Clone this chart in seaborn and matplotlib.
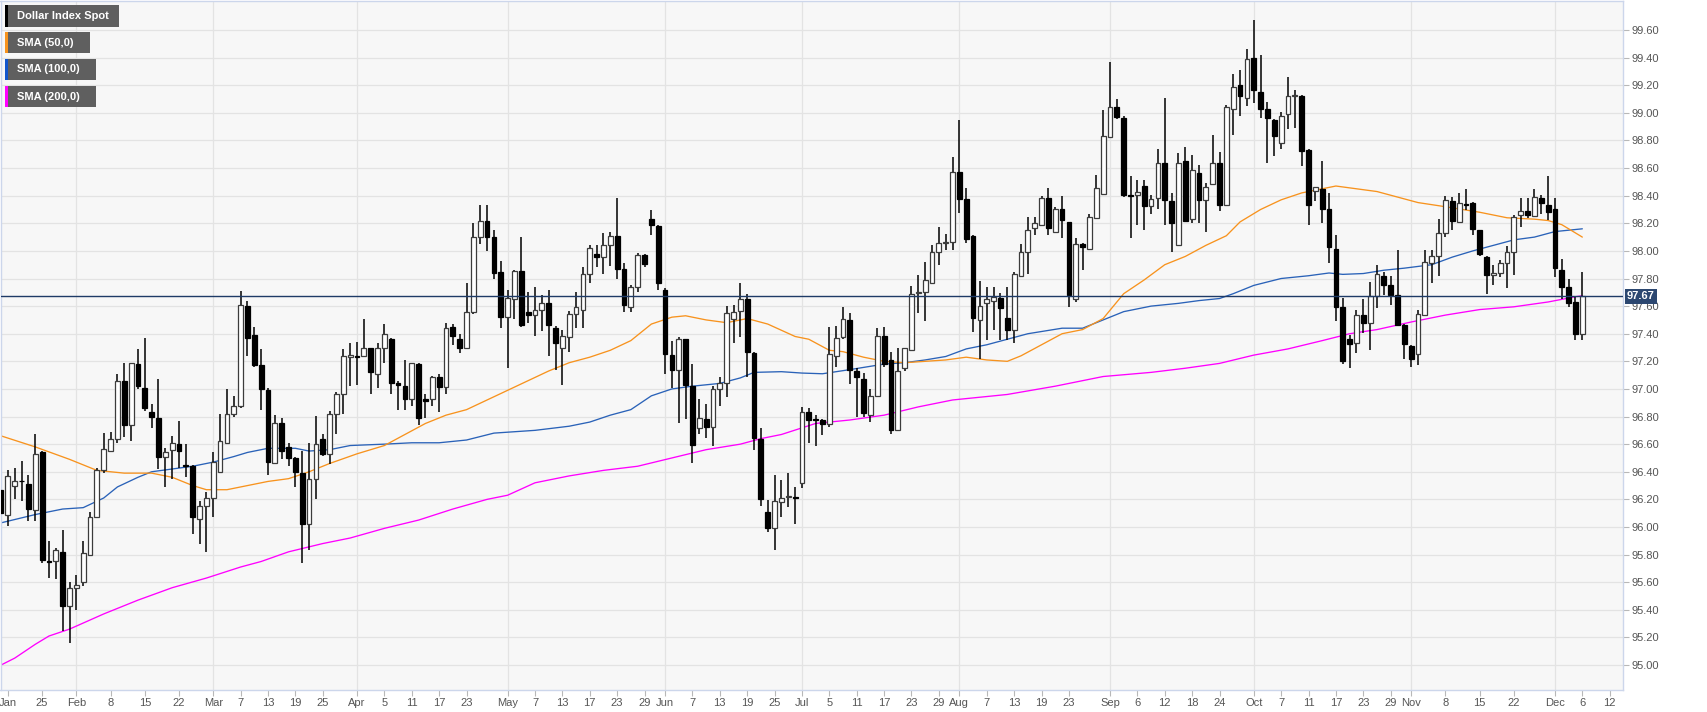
import numpy as np
import pandas as pd
import matplotlib
matplotlib.use('Agg')
import matplotlib.pyplot as plt
import seaborn as sns
from matplotlib.patches import Rectangle
from matplotlib.transforms import blended_transform_factory

# ---------------- data ----------------
start_date = '2019-01-17'
last_price = 97.67

opens = [96.27, 96.09, 96.30, 96.335, 96.31, 96.12, 96.54, 95.755, 95.75, 95.82,
         95.43, 95.56, 95.60, 95.80, 96.07, 96.41, 96.55, 96.64, 97.055, 96.74,
         97.18, 97.01, 96.83, 96.79, 96.51, 96.56, 96.60, 96.445, 96.44, 96.06,
         96.155, 96.21, 96.40, 96.61, 96.82, 96.88, 97.60, 97.39, 97.17, 96.99,
         96.46, 96.75, 96.58, 96.50, 96.39, 96.02, 96.345, 96.64, 96.53, 96.82,
         96.96, 97.235, 97.235, 97.24, 97.295, 97.11, 97.30, 97.365, 97.04, 97.02,
         96.925, 97.18, 96.925, 96.925, 97.085, 97.015, 97.45, 97.36, 97.295, 97.555,
         98.10, 98.22, 98.10, 97.85, 97.52, 97.65, 97.855, 97.56, 97.535, 97.57,
         97.62, 97.44, 97.30, 97.375, 97.54, 97.575, 97.83, 97.98, 97.955, 98.04,
         98.11, 97.87, 97.59, 97.74, 97.97, 98.23, 98.18, 97.72, 97.245, 97.14,
         97.36, 97.02, 96.715, 96.78, 96.725, 97.00, 97.04, 97.51, 97.565, 97.65,
         97.26, 96.64, 96.105, 95.99, 96.18, 96.215, 96.215, 96.32, 96.83, 96.78,
         96.775, 96.745, 97.24, 97.375, 97.50, 97.13, 97.075, 96.81, 96.95, 97.38,
         97.21, 96.705, 97.15, 97.285, 97.695, 97.70, 97.77, 97.99, 98.06, 98.065,
         98.57, 98.375, 98.11, 97.50, 97.62, 97.64, 97.66, 97.515, 97.425, 97.82,
         97.99, 98.165, 98.19, 98.38, 98.14, 98.30, 98.21, 97.65, 98.05, 98.015,
         98.24, 98.415, 98.825, 99.045, 98.96, 98.405, 98.405, 98.47, 98.325, 98.38,
         98.635, 98.36, 98.045, 98.65, 98.23, 98.565, 98.37, 98.485, 98.64, 98.33,
         99.03, 99.20, 99.11, 99.40, 99.15, 99.03, 98.95, 98.78, 98.99, 99.12,
         99.125, 98.73, 98.435, 98.445, 98.30, 98.015, 97.59, 97.36, 97.33, 97.535,
         97.475, 97.67, 97.82, 97.75, 97.68, 97.465, 97.31, 97.25, 97.535, 97.91,
         97.96, 98.13, 98.365, 98.21, 98.34, 98.35, 98.15, 97.955, 97.825, 97.84,
         97.91, 97.99, 98.26, 98.29, 98.255, 98.385, 98.33, 98.305, 97.86, 97.735,
         97.63, 97.40]

highs = [96.30, 96.41, 96.43, 96.48, 96.38, 96.67, 96.55, 95.90, 95.85, 95.98,
         95.60, 95.65, 95.90, 96.11, 96.43, 96.68, 96.69, 97.11, 97.19, 97.19,
         97.29, 97.37, 96.89, 97.07, 96.575, 96.66, 96.77, 96.60, 96.45, 96.19,
         96.25, 96.54, 96.82, 97.00, 96.95, 97.71, 97.64, 97.45, 97.29, 97.01,
         96.81, 96.79, 96.61, 96.51, 96.55, 96.61, 96.805, 96.67, 96.84, 96.975,
         97.29, 97.335, 97.34, 97.51, 97.30, 97.335, 97.47, 97.37, 97.06, 97.21,
         97.19, 97.185, 96.96, 97.095, 97.11, 97.48, 97.47, 97.395, 97.77, 98.20,
         98.33, 98.33, 98.15, 97.93, 97.72, 97.86, 98.10, 97.70, 97.74, 97.68,
         97.72, 97.455, 97.43, 97.565, 97.70, 97.88, 98.04, 98.045, 98.13, 98.14,
         98.38, 97.91, 97.75, 97.985, 97.975, 98.295, 98.185, 97.73, 97.345, 97.375,
         97.365, 97.18, 96.93, 96.89, 97.02, 97.085, 97.60, 97.61, 97.77, 97.69,
         97.265, 96.715, 96.195, 96.38, 96.34, 96.39, 96.29, 96.87, 96.86, 96.81,
         96.785, 97.45, 97.455, 97.59, 97.55, 97.15, 97.115, 97.00, 97.44, 97.45,
         97.27, 97.295, 97.30, 97.745, 97.825, 97.92, 98.04, 98.175, 98.125, 98.68,
         98.95, 98.455, 98.115, 97.78, 97.74, 97.74, 97.695, 97.74, 97.845, 98.05,
         98.245, 98.245, 98.395, 98.455, 98.32, 98.40, 98.21, 98.09, 98.055, 98.27,
         98.55, 99.02, 99.37, 99.10, 98.975, 98.54, 98.515, 98.515, 98.405, 98.74,
         99.11, 98.42, 98.71, 98.755, 98.695, 98.62, 98.49, 98.84, 98.715, 99.06,
         99.285, 99.31, 99.46, 99.67, 99.42, 99.08, 98.955, 99.005, 99.26, 99.165,
         99.13, 98.74, 98.465, 98.65, 98.42, 98.115, 97.66, 97.39, 97.575, 97.65,
         97.775, 97.90, 97.85, 97.82, 98.005, 97.47, 97.32, 97.57, 98.005, 98.01,
         98.23, 98.395, 98.39, 98.42, 98.45, 98.355, 98.155, 97.96, 97.895, 97.935,
         98.035, 98.26, 98.38, 98.38, 98.445, 98.405, 98.54, 98.38, 97.94, 97.80,
         97.67, 97.85]

lows = [96.00, 96.01, 96.20, 96.19, 96.04, 96.04, 95.74, 95.63, 95.62, 95.25,
        95.16, 95.40, 95.57, 95.79, 96.07, 96.39, 96.54, 96.61, 96.65, 96.62,
        97.00, 96.84, 96.72, 96.42, 96.29, 96.345, 96.43, 96.36, 95.95, 95.875,
        95.82, 96.07, 96.39, 96.61, 96.80, 96.86, 97.24, 97.16, 96.85, 96.38,
        96.46, 96.49, 96.44, 96.29, 95.74, 95.83, 96.20, 96.515, 96.455, 96.67,
        96.82, 97.02, 97.03, 97.24, 96.96, 97.01, 97.19, 96.96, 96.85, 96.85,
        96.88, 96.74, 96.79, 96.88, 96.83, 96.96, 97.32, 97.26, 97.29, 97.54,
        98.05, 98.00, 97.80, 97.44, 97.15, 97.51, 97.45, 97.475, 97.385, 97.42,
        97.24, 97.14, 97.03, 97.27, 97.44, 97.44, 97.77, 97.88, 97.83, 97.89,
        97.80, 97.555, 97.555, 97.705, 97.88, 98.115, 97.72, 97.11, 97.005, 96.75,
        96.78, 96.46, 96.67, 96.645, 96.585, 96.875, 96.94, 97.33, 97.375, 97.09,
        96.56, 96.15, 95.965, 95.835, 96.07, 96.145, 96.02, 96.28, 96.61, 96.585,
        96.665, 96.725, 97.16, 97.36, 97.035, 96.795, 96.80, 96.76, 96.945, 97.16,
        96.67, 96.70, 97.13, 97.28, 97.55, 97.49, 97.765, 97.90, 98.01, 98.01,
        98.275, 98.055, 97.41, 97.215, 97.355, 97.43, 97.355, 97.355, 97.33, 97.815,
        97.83, 98.115, 98.185, 98.115, 98.14, 98.09, 97.59, 97.63, 97.86, 98.01,
        98.235, 98.41, 98.82, 98.955, 98.39, 98.09, 98.19, 98.15, 98.27, 98.305,
        98.19, 97.99, 98.035, 98.215, 98.20, 98.20, 98.14, 98.48, 98.29, 98.33,
        98.84, 98.98, 99.05, 99.07, 98.96, 98.635, 98.69, 98.74, 98.885, 98.89,
        98.615, 98.19, 98.36, 98.20, 97.91, 97.49, 97.18, 97.15, 97.26, 97.405,
        97.28, 97.585, 97.68, 97.61, 97.455, 97.215, 97.16, 97.17, 97.53, 97.765,
        97.815, 98.10, 98.15, 98.205, 98.295, 98.115, 97.96, 97.685, 97.75, 97.81,
        97.73, 97.825, 98.175, 98.235, 98.25, 98.265, 98.225, 97.81, 97.655, 97.595,
        97.355, 97.355]

closes = [96.10, 96.37, 96.33, 96.33, 96.13, 96.53, 95.76, 95.745, 95.83, 95.43,
          95.56, 95.58, 95.815, 96.075, 96.41, 96.565, 96.635, 97.06, 96.74, 97.185,
          97.02, 96.86, 96.80, 96.51, 96.54, 96.61, 96.55, 96.44, 96.07, 96.155,
          96.21, 96.47, 96.62, 96.82, 96.88, 97.61, 97.37, 97.17, 97.00, 96.47,
          96.75, 96.55, 96.50, 96.40, 96.02, 96.345, 96.60, 96.53, 96.82, 96.965,
          97.24, 97.245, 97.23, 97.295, 97.125, 97.30, 97.395, 97.045, 97.03, 96.925,
          97.185, 96.79, 96.91, 97.085, 97.015, 97.44, 97.38, 97.295, 97.555, 98.10,
          98.22, 98.10, 97.84, 97.52, 97.66, 97.855, 97.465, 97.535, 97.57, 97.62,
          97.465, 97.335, 97.38, 97.54, 97.59, 97.83, 98.02, 97.955, 98.04, 98.11,
          97.87, 97.605, 97.74, 97.97, 97.905, 98.185, 97.765, 97.25, 97.135, 97.36,
          97.025, 96.595, 96.79, 96.725, 97.00, 97.04, 97.55, 97.555, 97.655, 97.265,
          96.645, 96.20, 95.99, 96.185, 96.21, 96.22, 96.21, 96.83, 96.775, 96.775,
          96.745, 97.25, 97.37, 97.505, 97.135, 97.085, 96.825, 96.95, 97.38, 97.18,
          96.70, 97.13, 97.295, 97.69, 97.70, 97.79, 97.99, 98.06, 98.065, 98.575,
          98.375, 98.085, 97.515, 97.60, 97.655, 97.665, 97.585, 97.425, 97.835, 97.99,
          98.15, 98.20, 98.385, 98.165, 98.30, 98.225, 97.68, 98.05, 98.025, 98.245,
          98.455, 98.835, 99.045, 98.97, 98.405, 98.40, 98.425, 98.325, 98.375, 98.635,
          98.37, 98.205, 98.64, 98.22, 98.585, 98.37, 98.46, 98.635, 98.335, 99.045,
          99.19, 99.125, 99.39, 99.165, 99.03, 98.96, 98.83, 98.98, 99.12, 99.125,
          98.725, 98.33, 98.46, 98.30, 98.025, 97.595, 97.205, 97.325, 97.535, 97.475,
          97.67, 97.83, 97.75, 97.68, 97.465, 97.325, 97.215, 97.54, 97.92, 97.96,
          98.13, 98.37, 98.215, 98.35, 98.335, 98.16, 97.98, 97.825, 97.84, 97.91,
          97.99, 98.245, 98.29, 98.26, 98.39, 98.35, 98.285, 97.875, 97.735, 97.625,
          97.395, 97.67]

# moving averages (trading-day index, value)
sma50_idx = [0, 5, 10, 14, 18, 22, 25, 28, 30, 33, 36, 39, 42, 45, 48, 52, 56, 59, 62, 65,
             68, 71, 74, 77, 80, 83, 86, 89, 92, 95, 98, 100, 103, 106, 109, 112, 116, 118, 121, 123,
             126, 129, 132, 135, 138, 141, 144, 147, 149, 152, 155, 158, 161, 164, 167, 170, 173, 176, 179, 181,
             184, 187, 190, 192, 195, 198, 201, 204, 207, 211, 216, 220, 224, 226, 228, 230, 231]
sma50_val = [96.66, 96.58, 96.49, 96.41, 96.39, 96.39, 96.36, 96.30, 96.27, 96.27, 96.30, 96.33, 96.35, 96.40, 96.46, 96.53, 96.59, 96.67, 96.75, 96.81,
             96.85, 96.92, 96.99, 97.06, 97.13, 97.19, 97.23, 97.28, 97.35, 97.47, 97.52, 97.53, 97.50, 97.48, 97.51, 97.47, 97.38, 97.36, 97.28, 97.27,
             97.23, 97.20, 97.19, 97.20, 97.21, 97.23, 97.21, 97.20, 97.24, 97.32, 97.40, 97.43, 97.51, 97.69, 97.79, 97.90, 97.96, 98.04, 98.11, 98.21,
             98.30, 98.37, 98.42, 98.44, 98.47, 98.45, 98.43, 98.39, 98.35, 98.32, 98.28, 98.24, 98.23, 98.22, 98.19, 98.13, 98.10]

sma100_idx = [0, 5, 9, 12, 15, 17, 20, 22, 25, 28, 31, 34, 36, 39, 43, 45, 48, 51, 56, 60,
              64, 68, 72, 75, 78, 83, 86, 89, 92, 95, 98, 101, 105, 108, 110, 114, 117, 120, 124, 129,
              132, 135, 138, 141, 144, 147, 150, 155, 158, 161, 164, 168, 172, 175, 178, 180, 183, 187, 191, 194,
              196, 199, 202, 205, 209, 212, 215, 218, 221, 224, 227, 229, 231]
sma100_val = [96.03, 96.09, 96.13, 96.14, 96.21, 96.29, 96.36, 96.40, 96.42, 96.44, 96.47, 96.51, 96.54, 96.57, 96.57, 96.55, 96.56, 96.59, 96.60, 96.61,
              96.61, 96.63, 96.68, 96.69, 96.70, 96.73, 96.76, 96.81, 96.85, 96.95, 97.00, 97.02, 97.04, 97.08, 97.12, 97.125, 97.115, 97.11, 97.14, 97.18,
              97.19, 97.21, 97.235, 97.29, 97.32, 97.36, 97.40, 97.44, 97.44, 97.50, 97.56, 97.60, 97.62, 97.64, 97.655, 97.69, 97.75, 97.80, 97.82, 97.84,
              97.83, 97.836, 97.86, 97.875, 97.90, 97.955, 98.00, 98.04, 98.08, 98.10, 98.14, 98.15, 98.16]

sma200_idx = [0, 2, 5, 7, 10, 15, 20, 25, 30, 35, 38, 42, 47, 51, 56, 61, 66, 71, 74, 78,
              83, 88, 93, 98, 103, 108, 111, 114, 119, 124, 129, 134, 139, 144, 147, 154, 161, 168, 173, 178,
              183, 188, 193, 197, 201, 206, 211, 216, 221, 226, 230, 231]
sma200_val = [95.00, 95.05, 95.15, 95.21, 95.26, 95.37, 95.47, 95.56, 95.63, 95.71, 95.75, 95.82, 95.88, 95.92, 95.99, 96.05, 96.13, 96.20, 96.23, 96.32,
              96.37, 96.41, 96.44, 96.50, 96.56, 96.60, 96.64, 96.67, 96.75, 96.775, 96.81, 96.87, 96.92, 96.945, 96.96, 97.02, 97.09, 97.12, 97.15, 97.185,
              97.245, 97.29, 97.35, 97.40, 97.43, 97.485, 97.535, 97.575, 97.595, 97.63, 97.668, 97.675]

tick_dates = ['2019-01-18', '2019-01-25', '2019-02-01', '2019-02-08', '2019-02-15', '2019-02-22',
              '2019-03-01', '2019-03-07', '2019-03-13', '2019-03-19', '2019-03-25', '2019-04-01',
              '2019-04-05', '2019-04-11', '2019-04-17', '2019-04-23', '2019-05-01', '2019-05-07',
              '2019-05-13', '2019-05-17', '2019-05-23', '2019-05-29', '2019-06-03', '2019-06-07',
              '2019-06-13', '2019-06-19', '2019-06-25', '2019-07-01', '2019-07-05', '2019-07-11',
              '2019-07-17', '2019-07-23', '2019-07-29', '2019-08-01', '2019-08-07', '2019-08-13',
              '2019-08-19', '2019-08-23', '2019-09-02', '2019-09-06', '2019-09-12', '2019-09-18',
              '2019-09-24', '2019-10-01', '2019-10-07', '2019-10-11', '2019-10-17', '2019-10-23',
              '2019-10-29', '2019-11-01', '2019-11-08', '2019-11-15', '2019-11-22', '2019-12-02',
              '2019-12-06', '2019-12-12']
tick_labels = ['Jan', '25', 'Feb', '8', '15', '22', 'Mar', '7', '13', '19', '25', 'Apr', '5', '11', '17', '23',
               'May', '7', '13', '17', '23', '29', 'Jun', '7', '13', '19', '25', 'Jul', '5', '11', '17', '23',
               '29', 'Aug', '7', '13', '19', '23', 'Sep', '6', '12', '18', '24', 'Oct', '7', '11', '17', '23',
               '29', 'Nov', '8', '15', '22', 'Dec', '6', '12']
month_starts = ['2019-02-01', '2019-03-01', '2019-04-01', '2019-05-01', '2019-06-03', '2019-07-01',
                '2019-08-01', '2019-09-02', '2019-10-01', '2019-11-01', '2019-12-02']
y_ticks = [95.00, 95.20, 95.40, 95.60, 95.80, 96.00, 96.20, 96.40, 96.60, 96.80, 97.00, 97.20,
           97.40, 97.60, 97.80, 98.00, 98.20, 98.40, 98.60, 98.80, 99.00, 99.20, 99.40, 99.60]

legend_names = ['Dollar Index Spot', 'SMA (50,0)', 'SMA (100,0)', 'SMA (200,0)']

# ---------------- styling ----------------
sns.set_style('white')
plt.rcParams['font.family'] = ['Liberation Sans', 'DejaVu Sans']

W, H = 1707, 712
fig = plt.figure(figsize=(W / 100, H / 100), dpi=100, facecolor='white')
ax = fig.add_axes([0.5 / W, 1 - 690 / H, (1623 - 0.5) / W, (690 - 0.5) / H])
ax.set_facecolor('#f7f7f7')

n = len(opens)
all_days = pd.bdate_range(start_date, '2019-12-31')
idx = np.arange(n)
o = np.array(opens); h = np.array(highs); l = np.array(lows); c = np.array(closes)

# grid
for yv in y_ticks:
    ax.axhline(yv, color='#e3e3e3', lw=0.9, zorder=0)
for d in month_starts:
    ax.axvline(all_days.get_loc(pd.Timestamp(d)), color='#e3e3e3', lw=0.9, zorder=0)

# SMAs (seaborn)
sns.lineplot(x=sma200_idx, y=sma200_val, ax=ax, color='#ff00ff', lw=0.95, zorder=1.5)
sns.lineplot(x=sma100_idx, y=sma100_val, ax=ax, color='#2a62b8', lw=0.95, zorder=1.6)
sns.lineplot(x=sma50_idx, y=sma50_val, ax=ax, color='#f7931e', lw=0.95, zorder=1.7)

# candles
ax.vlines(idx, l, h, color='black', lw=1.1, zorder=2)
up = c >= o
body_bot = np.minimum(o, c)
body_h = np.maximum(np.abs(c - o), 0.006)
ax.bar(idx[up], body_h[up], bottom=body_bot[up], width=0.7, color='white',
       edgecolor='#3c3c3c', linewidth=0.9, zorder=3)
ax.bar(idx[~up], body_h[~up], bottom=body_bot[~up], width=0.7, color='black',
       edgecolor='black', linewidth=0.9, zorder=3)

# last price line
ax.axhline(last_price, color='#1e3a66', lw=1.0, zorder=4)
tr = blended_transform_factory(ax.transAxes, ax.transData)
ax.text(1.0025, last_price, f'{last_price:.2f}', transform=tr, ha='left', va='center',
        color='white', fontsize=8, fontweight='bold', zorder=10, clip_on=False,
        bbox=dict(boxstyle='square,pad=0.22', fc='#2c4770', ec='none'))

# axes
ax.set_xlim(-0.08, n - 1 + 5.94)
ax.set_ylim(94.819, 99.814)
ax.yaxis.tick_right()
ax.set_yticks(y_ticks)
ax.set_yticklabels([f'{v:.2f}' for v in y_ticks])
tick_pos = [all_days.get_loc(pd.Timestamp(d)) for d in tick_dates]
ax.set_xticks(tick_pos)
ax.set_xticklabels(tick_labels)
ax.tick_params(axis='y', right=True, left=False, length=4, width=0.8, color='#b8b8b8',
               labelsize=8, labelcolor='#555555', pad=2)
ax.tick_params(axis='x', bottom=True, length=4, width=0.8, color='#b8b8b8',
               labelsize=8, labelcolor='#555555', pad=2)
ax.set_xlabel('')
ax.set_ylabel('')
for sp in ax.spines.values():
    sp.set_color('#ccd6eb')
    sp.set_linewidth(1.0)

# legend boxes
leg_colors = ['#000000', '#f7931e', '#1155cc', '#ff00ff']
boxes = [(5, 5, 119, 27), (5, 32, 90, 53), (5, 59, 96, 80), (5, 86, 96, 107)]
for name, col, (x0, y0, x1, y1) in zip(legend_names, leg_colors, boxes):
    fig.add_artist(Rectangle((x0 / W, 1 - y1 / H), (x1 - x0) / W, (y1 - y0) / H,
                             transform=fig.transFigure, fc='#5f5f5f', ec='none', zorder=20))
    fig.add_artist(Rectangle((x0 / W, 1 - y1 / H), 2.6 / W, (y1 - y0) / H,
                             transform=fig.transFigure, fc=col, ec='none', zorder=21))
    fig.text(17 / W, 1 - (y0 + y1) / 2 / H, name, color='white', fontsize=8,
             fontweight='bold', ha='left', va='center', zorder=22)

fig.savefig('out.png', dpi=100, facecolor='white')
